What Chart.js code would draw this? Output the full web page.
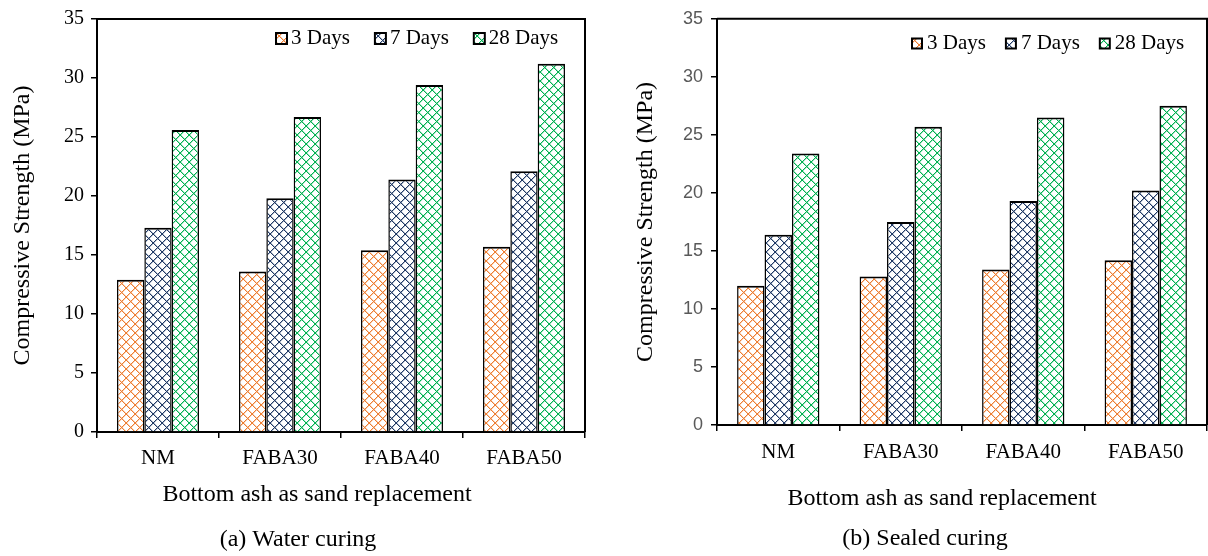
<!DOCTYPE html>
<html>
<head>
<meta charset="utf-8">
<script src="https://cdn.jsdelivr.net/npm/chart.js@4.4.1/dist/chart.umd.min.js"></script>
<style>
  html, body { margin: 0; padding: 0; background: #fff; }
  #wrap { position: relative; width: 1208px; height: 556px; }
  canvas { position: absolute; top: 0; }
  #waterChart { left: 0; }
  #sealedChart { left: 604px; }
</style>
</head>
<body>
<div id="wrap">
  <canvas id="waterChart" width="604" height="556"></canvas>
  <canvas id="sealedChart" width="604" height="556"></canvas>
</div>
<script>
// Mix designs (bottom ash replacing sand) and curing ages
const categories = ['NM', 'FABA30', 'FABA40', 'FABA50'];
const ageLabels = ['3 Days', '7 Days', '28 Days'];
const yTicks = [0, 5, 10, 15, 20, 25, 30, 35];

// Compressive strength (MPa), water curing
const water3 = [12.9, 13.6, 15.4, 15.7];
const water7 = [17.3, 19.8, 21.4, 22.1];
const water28 = [25.6, 26.7, 29.4, 31.2];

// Compressive strength (MPa), sealed curing
const sealed3 = [12.0, 12.8, 13.4, 14.2];
const sealed7 = [16.4, 17.5, 19.3, 20.2];
const sealed28 = [23.4, 25.7, 26.5, 27.5];

const ageColors = ['#ED7D31', '#1F3864', '#00B050'];

const SERIF = "'Liberation Serif', 'Times New Roman', serif";
const SANS = "'Liberation Sans', Arial, sans-serif";
Chart.defaults.font.family = SERIF;

// Diamond lattice fill: two diagonals on a white tile, with a soft companion pixel
function latticePattern(ctx, color) {
  const s = 9;
  const tile = document.createElement('canvas');
  tile.width = s; tile.height = s;
  const g = tile.getContext('2d');
  g.fillStyle = '#fff';
  g.fillRect(0, 0, s, s);
  g.fillStyle = color;
  g.globalAlpha = 0.35;
  for (let i = 0; i < s; i++) {
    g.fillRect((i + 1) % s, i, 1, 1);
    g.fillRect((s - i) % s, i, 1, 1);
  }
  g.globalAlpha = 1;
  for (let i = 0; i < s; i++) {
    g.fillRect(i, i, 1, 1);
    g.fillRect(s - 1 - i, i, 1, 1);
  }
  return ctx.createPattern(tile, 'repeat');
}

// Frame, legend, axis title and panel caption
const panelDecor = {
  id: 'panelDecor',
  afterDraw(chart, args, opts) {
    const { ctx, chartArea: a } = chart;
    ctx.save();
    ctx.strokeStyle = '#000';
    ctx.lineWidth = 2;
    ctx.beginPath();
    ctx.moveTo(a.left, a.top);
    ctx.lineTo(a.right, a.top);
    ctx.lineTo(a.right, a.bottom);
    ctx.stroke();

    ctx.font = '21px ' + SERIF;
    ctx.textBaseline = 'middle';
    ctx.textAlign = 'left';
    let x = opts.legendX;
    const b = opts.box;
    chart.data.datasets.forEach(ds => {
      ctx.fillStyle = ds.backgroundColor;
      ctx.fillRect(x, opts.legendY - b / 2, b, b);
      ctx.lineWidth = 2;
      ctx.strokeStyle = '#000';
      ctx.strokeRect(x, opts.legendY - b / 2, b, b);
      ctx.fillStyle = '#000';
      const tx = x + b + opts.textGap;
      ctx.fillText(ds.label, tx, opts.legendY);
      x = tx + ctx.measureText(ds.label).width + opts.itemGap;
    });

    ctx.font = '24px ' + SERIF;
    ctx.textAlign = 'center';
    ctx.fillStyle = '#000';
    ctx.fillText(opts.xTitle, opts.xTitleX, opts.xTitleY);
    ctx.fillText(opts.caption, opts.captionX, opts.captionY);
    ctx.restore();
  }
};

function buildChart(id, series, cfg) {
  const ctx = document.getElementById(id).getContext('2d');
  return new Chart(ctx, {
    type: 'bar',
    data: {
      labels: categories,
      datasets: series.map((vals, i) => ({
        label: ageLabels[i],
        data: vals,
        backgroundColor: latticePattern(ctx, ageColors[i]),
        borderColor: '#000',
        borderWidth: { top: 2, left: 1.5, right: 1.5, bottom: 0 },
        barPercentage: 1,
        categoryPercentage: 0.672
      }))
    },
    options: {
      responsive: false,
      animation: false,
      devicePixelRatio: 1,
      layout: { padding: cfg.padding },
      plugins: {
        legend: { display: false },
        tooltip: { enabled: false },
        panelDecor: cfg.decor
      },
      scales: {
        x: {
          grid: { drawOnChartArea: false, tickLength: 6, color: '#000', lineWidth: 1.5 },
          border: { color: '#000', width: 2 },
          ticks: { color: '#000', font: { family: SERIF, size: 21 }, padding: cfg.xTickPad, maxRotation: 0 },
          afterFit: s => { s.height = cfg.xHeight; }
        },
        y: {
          min: yTicks[0],
          max: yTicks[yTicks.length - 1],
          afterBuildTicks: s => { s.ticks = yTicks.map(v => ({ value: v })); },
          grid: { drawOnChartArea: false, tickLength: 6, color: '#000', lineWidth: 1.5 },
          border: { color: '#000', width: 2 },
          ticks: { color: cfg.yTickColor, font: cfg.yTickFont, padding: cfg.yTickPad },
          title: {
            display: true,
            text: 'Compressive Strength (MPa)',
            color: '#000',
            font: { family: SERIF, size: 24 },
            padding: { top: cfg.yTitlePad, bottom: 0 }
          },
          afterFit: s => { s.width = cfg.yWidth; }
        }
      }
    },
    plugins: [panelDecor]
  });
}

buildChart('waterChart', [water3, water7, water28], {
  padding: { left: 0, top: 14, right: 19, bottom: 0 },
  yWidth: 97, xHeight: 124, xTickPad: 8, yTickPad: 7, yTitlePad: 8,
  yTickColor: '#000', yTickFont: { family: SERIF, size: 20 },
  decor: {
    legendX: 276, legendY: 38.5, box: 11, textGap: 4, itemGap: 25,
    xTitle: 'Bottom ash as sand replacement', xTitleX: 317, xTitleY: 495,
    caption: '(a) Water curing', captionX: 298, captionY: 540
  }
});

buildChart('sealedChart', [sealed3, sealed7, sealed28], {
  padding: { left: 0, top: 16, right: 1, bottom: 0 },
  yWidth: 113, xHeight: 131, xTickPad: 9, yTickPad: 8, yTitlePad: 27,
  yTickColor: '#595959', yTickFont: { family: SANS, size: 18 },
  decor: {
    legendX: 308, legendY: 43.5, box: 10, textGap: 5, itemGap: 20,
    xTitle: 'Bottom ash as sand replacement', xTitleX: 338, xTitleY: 499,
    caption: '(b) Sealed curing', captionX: 321, captionY: 539
  }
});
</script>
</body>
</html>
